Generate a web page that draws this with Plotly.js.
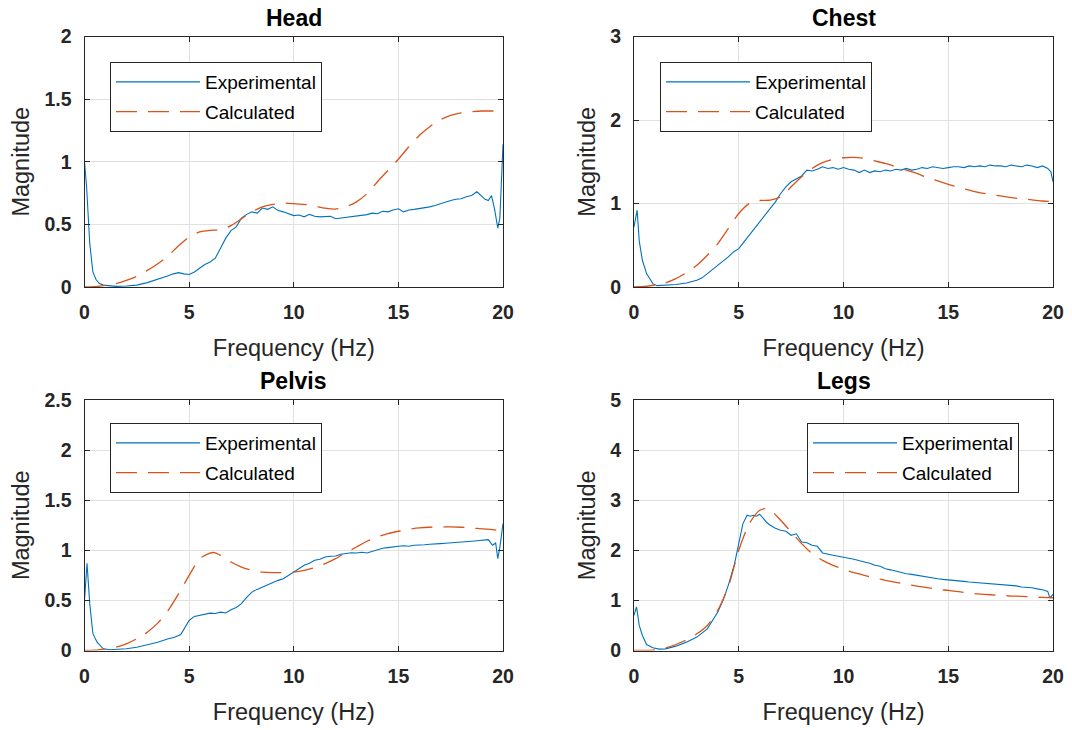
<!DOCTYPE html>
<html>
<head>
<meta charset="utf-8">
<script src="https://cdn.plot.ly/plotly-3.0.1.min.js"></script>
<style>html,body{margin:0;padding:0;background:#fff;}#chart{width:1072px;height:730px;}</style>
</head>
<body>
<div id="chart"></div>
<script>
// ---------- DATA ----------
var panelTitles = ['Head', 'Chest', 'Pelvis', 'Legs'];
var seriesNames = ['Experimental', 'Calculated'];
var xTickVals = [0, 5, 10, 15, 20];

// Head
var headExpF = [0,0.1,0.25,0.4,0.55,0.7,0.9,1.2,1.5,2,2.5,3,3.5,4,4.25,4.5,4.75,5,5.25,5.5,5.75,6,6.25,6.5,6.75,7,7.25,7.5,7.75,8,8.25,8.5,8.75,9,9.25,9.5,9.75,10,10.25,10.5,10.75,11,11.25,11.5,11.75,12,12.25,12.5,12.75,13,13.25,13.5,13.75,14,14.25,14.5,14.75,15,15.25,15.5,15.75,16,16.25,16.5,16.75,17,17.25,17.5,17.75,18,18.25,18.5,18.75,19,19.15,19.3,19.45,19.6,19.75,19.85,20];
var headExp = [1.0,0.8,0.35,0.12,0.06,0.03,0.015,0.008,0.005,0.008,0.015,0.035,0.06,0.09,0.105,0.115,0.105,0.10,0.12,0.15,0.18,0.2,0.23,0.31,0.39,0.45,0.48,0.55,0.58,0.6,0.59,0.63,0.62,0.64,0.61,0.6,0.585,0.57,0.575,0.56,0.58,0.565,0.56,0.56,0.565,0.545,0.55,0.552,0.56,0.565,0.57,0.578,0.59,0.585,0.605,0.6,0.615,0.625,0.6,0.615,0.62,0.625,0.63,0.64,0.65,0.665,0.675,0.69,0.7,0.705,0.72,0.73,0.76,0.72,0.70,0.69,0.73,0.62,0.47,0.55,1.14];
var headCalF = [0,0.5,1,1.5,2,2.5,3,3.5,4,4.5,5,5.5,6,6.5,7,7.5,8,8.5,9,9.5,10,10.5,11,11.5,12,12.5,13,13.5,14,14.5,15,15.5,16,16.5,17,17.5,18,18.5,19,19.6];
var headCal = [0,0.003,0.013,0.027,0.053,0.085,0.133,0.186,0.25,0.33,0.4,0.44,0.452,0.457,0.49,0.545,0.6,0.64,0.66,0.67,0.665,0.66,0.646,0.63,0.622,0.64,0.68,0.745,0.84,0.93,1.02,1.12,1.21,1.28,1.335,1.37,1.39,1.40,1.405,1.405];

// Chest
var chestExpF = [0,0.15,0.25,0.4,0.6,0.9,1.1,1.5,2,2.5,3,3.25,3.5,3.75,4,4.25,4.5,4.75,5,5.25,5.5,5.75,6,6.25,6.5,6.75,7,7.25,7.5,7.75,8,8.25,8.5,8.75,9,9.25,9.5,9.75,10,10.25,10.5,10.75,11,11.25,11.5,11.75,12,12.25,12.5,12.75,13,13.25,13.5,13.75,14,14.25,14.5,14.75,15,15.25,15.5,15.75,16,16.25,16.5,16.75,17,17.25,17.5,17.75,18,18.25,18.5,18.75,19,19.25,19.5,19.75,19.9,20];
var chestExp = [0.72,0.92,0.55,0.32,0.16,0.04,0.016,0.02,0.03,0.048,0.08,0.11,0.16,0.21,0.26,0.3,0.36,0.42,0.46,0.54,0.62,0.7,0.78,0.86,0.94,1.02,1.12,1.2,1.26,1.3,1.33,1.40,1.39,1.41,1.44,1.42,1.43,1.41,1.43,1.41,1.40,1.37,1.40,1.37,1.39,1.38,1.40,1.39,1.41,1.40,1.42,1.40,1.41,1.43,1.42,1.44,1.43,1.42,1.43,1.44,1.44,1.43,1.45,1.44,1.45,1.44,1.46,1.45,1.45,1.44,1.46,1.45,1.44,1.46,1.45,1.43,1.45,1.42,1.38,1.26];
var chestCalF = [0,0.5,1,1.5,2,2.5,3,3.5,4,4.5,5,5.5,6,6.5,7,7.5,8,8.5,9,9.5,10,10.5,11,11.5,12,12.5,13,13.5,14,14.5,15,15.5,16,16.5,17,17.5,18,18.5,19,19.5,19.85];
var chestCal = [0,0.006,0.024,0.05,0.10,0.17,0.26,0.38,0.52,0.70,0.88,1.0,1.036,1.04,1.08,1.2,1.32,1.42,1.49,1.53,1.548,1.552,1.54,1.51,1.48,1.44,1.40,1.36,1.31,1.27,1.23,1.19,1.16,1.13,1.11,1.09,1.07,1.056,1.044,1.03,1.024];

// Pelvis
var pelvisExpF = [0,0.12,0.25,0.4,0.6,0.9,1.2,1.5,2,2.5,3,3.5,4,4.3,4.6,4.8,5,5.25,5.5,5.75,6,6.25,6.5,6.75,7,7.25,7.5,7.75,8,8.25,8.5,8.75,9,9.25,9.5,9.75,10,10.25,10.5,10.75,11,11.25,11.5,11.75,12,12.25,12.5,12.75,13,13.25,13.5,13.75,14,14.25,14.5,14.75,15,15.25,15.5,15.75,16,16.25,16.5,16.75,17,17.25,17.5,17.75,18,18.25,18.5,18.75,19,19.3,19.5,19.65,19.75,19.85,20];
var pelvisExp = [0.5,0.87,0.47,0.17,0.083,0.017,0.007,0.01,0.017,0.033,0.057,0.083,0.117,0.133,0.16,0.233,0.30,0.34,0.35,0.365,0.373,0.37,0.383,0.375,0.407,0.43,0.467,0.53,0.583,0.61,0.633,0.66,0.683,0.70,0.717,0.75,0.783,0.82,0.85,0.87,0.90,0.91,0.933,0.94,0.943,0.96,0.967,0.975,0.973,0.98,0.973,0.99,1.0,1.02,1.027,1.03,1.04,1.045,1.04,1.05,1.05,1.055,1.06,1.06,1.067,1.07,1.073,1.075,1.083,1.08,1.09,1.095,1.10,1.107,1.05,1.073,0.917,1.03,1.267];
var pelvisCalF = [0,0.5,1,1.5,2,2.5,3,3.5,4,4.5,5,5.5,6,6.2,6.5,7,7.5,8,8.5,9,9.5,10,10.5,11,11.5,12,12.5,13,13.5,14,14.5,15,15.5,16,16.5,17,17.5,18,18.5,19,19.5,19.7];
var pelvisCal = [0,0.004,0.017,0.033,0.067,0.117,0.183,0.273,0.40,0.567,0.75,0.917,0.973,0.977,0.95,0.883,0.833,0.80,0.783,0.777,0.777,0.783,0.80,0.827,0.867,0.917,0.977,1.033,1.09,1.133,1.167,1.19,1.21,1.223,1.23,1.233,1.233,1.23,1.223,1.213,1.207,1.2];

// Legs
var legsExpF = [0,0.12,0.25,0.4,0.6,0.9,1.2,1.5,2,2.5,3,3.5,4,4.25,4.5,4.8,5,5.2,5.4,5.55,5.7,5.85,6,6.2,6.35,6.5,6.75,7,7.25,7.5,7.75,8,8.25,8.5,8.75,9,9.25,9.5,9.75,10,10.25,10.5,10.75,11,11.25,11.5,11.75,12,12.25,12.5,12.75,13,13.25,13.5,13.75,14,14.25,14.5,14.75,15,15.25,15.5,15.75,16,16.25,16.5,16.75,17,17.25,17.5,17.75,18,18.25,18.5,18.75,19,19.25,19.5,19.75,19.85,20];
var legsExp = [0.70,0.87,0.50,0.30,0.12,0.053,0.027,0.033,0.087,0.167,0.267,0.433,0.767,1.0,1.30,1.733,2.133,2.533,2.70,2.68,2.70,2.68,2.72,2.61,2.55,2.50,2.44,2.40,2.38,2.30,2.33,2.167,2.15,2.10,2.08,1.947,1.93,1.90,1.88,1.853,1.84,1.82,1.80,1.767,1.74,1.70,1.68,1.633,1.61,1.58,1.56,1.533,1.52,1.50,1.48,1.467,1.45,1.433,1.42,1.413,1.40,1.387,1.38,1.367,1.36,1.347,1.34,1.333,1.325,1.32,1.31,1.30,1.29,1.267,1.26,1.253,1.23,1.213,1.18,1.05,1.12];
var legsCalF = [0,0.5,1,1.5,2,2.5,3,3.5,4,4.5,5,5.5,6,6.3,6.5,7,7.5,8,8.5,9,9.5,10,10.5,11,11.5,12,12.5,13,13.5,14,14.5,15,15.5,16,16.5,17,17.5,18,18.5,19,19.5,20];
var legsCal = [0,0.003,0.013,0.053,0.12,0.213,0.333,0.50,0.80,1.267,2.0,2.533,2.80,2.833,2.813,2.60,2.367,2.133,1.933,1.80,1.70,1.62,1.553,1.50,1.447,1.40,1.36,1.32,1.287,1.253,1.22,1.20,1.173,1.147,1.127,1.113,1.10,1.087,1.08,1.067,1.06,1.053];

var yRanges = [[0,2],[0,3],[0,2.5],[0,5]];
var yDticks = [0.5, 1, 0.5, 1];

// ---------- STYLE ----------
var W = 1072, H = 730;
var FONT = 'Liberation Sans, Arial, Helvetica, sans-serif';
var AX = '#262626';
var BLUE = '#0072BD', RED = '#D95319';
var colPx = [[84.5, 503], [634, 1053]];
var rowPx = [[36.5, 287], [400, 650.5]];
var legendPx = [[110, 62], [660, 62], [110, 423], [807, 423]];

var expF = [headExpF, chestExpF, pelvisExpF, legsExpF];
var expV = [headExp, chestExp, pelvisExp, legsExp];
var calF = [headCalF, chestCalF, pelvisCalF, legsCalF];
var calV = [headCal, chestCal, pelvisCal, legsCal];

var traces = [];
var layout = {
  width: W, height: H,
  margin: {l: 0, r: 0, t: 0, b: 0},
  paper_bgcolor: '#fff', plot_bgcolor: '#fff',
  font: {family: FONT, color: AX},
  showlegend: true,
  annotations: []
};

for (var i = 0; i < 4; i++) {
  var r = Math.floor(i / 2), c = i % 2;
  var sfx = i === 0 ? '' : String(i + 1);
  var lg = 'legend' + sfx;
  traces.push({
    type: 'scatter', mode: 'lines', x: expF[i], y: expV[i],
    name: seriesNames[0], xaxis: 'x' + sfx, yaxis: 'y' + sfx,
    line: {color: BLUE, width: 1.1}, legend: lg, legendgroup: 'e' + i
  });
  traces.push({
    type: 'scatter', mode: 'lines', x: calF[i], y: calV[i],
    name: seriesNames[1], xaxis: 'x' + sfx, yaxis: 'y' + sfx,
    line: {color: RED, width: 1.3, dash: '21px,11px', shape: 'spline', smoothing: 0.6},
    legend: lg, legendgroup: 'c' + i
  });
  var xd = [colPx[c][0] / W, colPx[c][1] / W];
  var yd = [(H - rowPx[r][1]) / H, (H - rowPx[r][0]) / H];
  layout['xaxis' + sfx] = {
    domain: xd, anchor: 'y' + sfx, range: [0, 20], tickvals: xTickVals,
    showline: true, linecolor: AX, linewidth: 1, mirror: 'ticks',
    ticks: 'inside', ticklen: 5, tickcolor: AX, tickwidth: 1,
    showgrid: true, gridcolor: '#e1e1e1', gridwidth: 1, zeroline: false,
    tickfont: {family: FONT, size: 19.5, color: AX, weight: 'bold'},
    ticklabelstandoff: 8,
    title: {text: 'Frequency (Hz)', font: {family: FONT, size: 23.5, color: AX}, standoff: 17},
    automargin: false, fixedrange: true
  };
  layout['yaxis' + sfx] = {
    domain: yd, anchor: 'x' + sfx, range: yRanges[i], dtick: yDticks[i], tick0: 0,
    showline: true, linecolor: AX, linewidth: 1, mirror: 'ticks',
    ticks: 'inside', ticklen: 5, tickcolor: AX, tickwidth: 1,
    showgrid: true, gridcolor: '#e1e1e1', gridwidth: 1, zeroline: false,
    tickfont: {family: FONT, size: 19.5, color: AX, weight: 'bold'},
    ticklabelstandoff: 8,
    title: {text: 'Magnitude', font: {family: FONT, size: 23.5, color: AX}, standoff: 8},
    automargin: false, fixedrange: true
  };
  layout[lg] = {
    x: legendPx[i][0] / W, y: (H - legendPx[i][1]) / H,
    xref: 'paper', yref: 'paper', xanchor: 'left', yanchor: 'top',
    orientation: 'v',
    bgcolor: '#fff', bordercolor: AX, borderwidth: 1,
    font: {family: FONT, size: 19, color: '#000'},
    itemwidth: 84, traceorder: 'grouped', tracegroupgap: 2,
    entrywidth: 214, entrywidthmode: 'pixels',
    itemclick: false, itemdoubleclick: false
  };
  layout.annotations.push({
    text: '<b>' + panelTitles[i] + '</b>', showarrow: false,
    xref: 'paper', yref: 'paper', x: (xd[0] + xd[1]) / 2,
    y: (H - (r === 0 ? 18 : 381)) / H, xanchor: 'center', yanchor: 'middle',
    font: {family: FONT, size: 23, color: '#000'}
  });
}

Plotly.newPlot('chart', traces, layout, {displayModeBar: false, staticPlot: true});
</script>
</body>
</html>
